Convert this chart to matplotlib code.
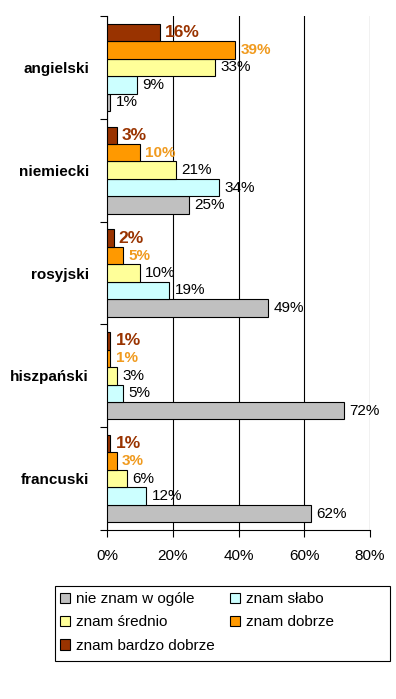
import matplotlib
matplotlib.use("Agg")
import matplotlib.pyplot as plt
import numpy as np
from matplotlib.patches import Patch, Rectangle

categories = ["angielski", "niemiecki", "rosyjski", "hiszpański", "francuski"]
series_names = ["nie znam w ogóle", "znam słabo", "znam średnio", "znam dobrze", "znam bardzo dobrze"]
nie_znam = [1, 25, 49, 72, 62]
slabo = [9, 34, 19, 5, 12]
srednio = [33, 21, 10, 3, 6]
dobrze = [39, 10, 5, 1, 3]
bardzo_dobrze = [16, 3, 2, 1, 1]
xticks = [0, 20, 40, 60, 80]

series = [nie_znam, slabo, srednio, dobrze, bardzo_dobrze]
colors = ["#C0C0C0", "#CCFFFF", "#FFFF99", "#FF9900", "#993300"]
label_colors = ["black", "black", "black", "#F09A1E", "#993300"]
label_weights = ["normal", "normal", "normal", "bold", "bold"]
label_sizes = [11, 11, 11, 11, 12.5]

plt.rcParams['font.family'] = ['Liberation Sans', 'DejaVu Sans']

W, H = 396, 699
fig = plt.figure(figsize=(W/100, H/100), dpi=100)
ax = fig.add_axes([107/W, 1-530/H, 263/W, 514/H])

h = 0.17
y = np.arange(len(categories))
for i, (vals, c) in enumerate(zip(series, colors)):
    offs = (2 - i) * h
    pos = y + offs
    ax.barh(pos, vals, height=h, color=c, edgecolor="black", linewidth=0.8, zorder=3)
    for p, v in zip(pos, vals):
        ax.text(v + 1.6, p, f"{v}%", va="center", ha="left", color=label_colors[i],
                fontweight=label_weights[i], fontsize=label_sizes[i], zorder=4)

ax.set_ylim(len(categories) - 0.5, -0.5)
ax.set_xlim(0, 80)
ax.set_xticks(xticks)
ax.set_xticklabels([f"{t}%" for t in xticks], fontsize=11)
ax.set_yticks(y)
ax.set_yticklabels(categories, fontsize=11, fontweight="bold")
ax.tick_params(axis="y", length=0, pad=13)
ax.set_yticks(np.arange(len(categories) + 1) - 0.5, minor=True)
ax.tick_params(axis="y", which="minor", length=5, width=0.8, direction="out")
ax.tick_params(axis="x", length=5, width=0.8, direction="out", pad=9)
ax.xaxis.grid(True, color="black", linewidth=0.8, zorder=0)
ax.set_axisbelow(True)
for s in ["top", "right"]:
    ax.spines[s].set_visible(False)
for s in ["left", "bottom"]:
    ax.spines[s].set_linewidth(0.8)

# legend frame
fig.add_artist(Rectangle((55/W, 1-661/H), 335/W, 75/H, transform=fig.transFigure,
                         facecolor="white", edgecolor="black", linewidth=0.8, zorder=1))
handles = [Patch(facecolor=c, edgecolor="black", linewidth=0.8) for c in colors]
order = [0, 2, 4, 1, 3]
leg = fig.legend([handles[k] for k in order], [series_names[k] for k in order],
                 ncol=2, loc="upper left", bbox_to_anchor=(60/W, 1-592/H),
                 fontsize=11, frameon=False,
                 handlelength=0.65, handleheight=0.65, handletextpad=0.4,
                 columnspacing=1.0, labelspacing=0.62, borderpad=0.0, borderaxespad=0)
leg.set_zorder(2)
fig.savefig("out.png", dpi=100)
